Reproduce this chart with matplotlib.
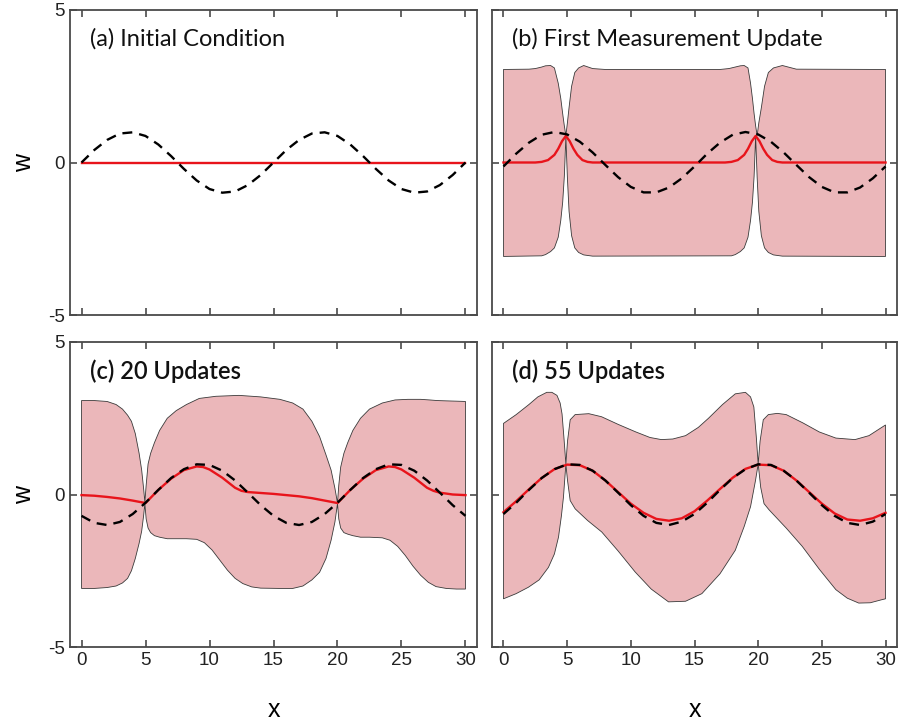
import matplotlib
matplotlib.use("Agg")
import matplotlib.pyplot as plt
import numpy as np

plt.rcParams['axes.unicode_minus'] = False
plt.rcParams['font.family'] = ['Liberation Sans', 'DejaVu Sans']

# ---- data ----
x_int = list(range(31))

# true state (dashed)
truth_a = [0, 0.41, 0.74, 0.95, 0.99, 0.87, 0.59, 0.21, -0.21, -0.59, -0.87, -0.99, -0.95, -0.74, -0.41,
           0, 0.41, 0.74, 0.95, 0.99, 0.87, 0.59, 0.21, -0.21, -0.59, -0.87, -0.99, -0.95, -0.74, -0.41, 0]
truth_b = [-0.13, 0.29, 0.65, 0.91, 1.0, 0.92, 0.68, 0.33, -0.08, -0.48, -0.80, -0.98, -0.98, -0.82, -0.52,
           -0.13, 0.29, 0.65, 0.91, 1.0, 0.92, 0.68, 0.33, -0.08, -0.48, -0.80, -0.98, -0.98, -0.82, -0.52, -0.13]
truth_c = [-0.70, -0.93, -1.0, -0.90, -0.64, -0.27, 0.15, 0.54, 0.83, 0.99, 0.97, 0.78, 0.46, 0.06, -0.35,
           -0.70, -0.93, -1.0, -0.90, -0.64, -0.27, 0.15, 0.54, 0.83, 0.99, 0.97, 0.78, 0.46, 0.06, -0.35, -0.70]
truth_d = [-0.64, -0.27, 0.15, 0.54, 0.83, 0.99, 0.97, 0.78, 0.46, 0.06, -0.35, -0.70, -0.93, -1.0, -0.89,
           -0.64, -0.27, 0.15, 0.54, 0.83, 0.99, 0.97, 0.78, 0.46, 0.06, -0.35, -0.70, -0.93, -1.0, -0.89, -0.64]

# estimate (red)
mean_a_x = [0, 30]
mean_a = [0, 0]

mean_b_x = [0, 2.5, 3, 3.5, 4, 4.3, 4.6, 4.9, 5.2, 5.5, 5.8, 6.2, 6.6, 7, 17.4, 17.9, 18.4, 18.9, 19.2, 19.5,
            19.8, 20.1, 20.4, 20.7, 21.1, 21.5, 21.9, 30]
mean_b = [0, 0, 0.02, 0.08, 0.25, 0.45, 0.7, 0.87, 0.7, 0.45, 0.25, 0.08, 0.02, 0, 0, 0.02, 0.08, 0.25, 0.45, 0.7,
          0.87, 0.7, 0.45, 0.25, 0.08, 0.02, 0, 0]

mean_c_x = [0, 1, 2, 3, 4, 5, 6, 7, 8, 9, 9.5, 10, 11, 12, 12.5, 13, 14, 15, 16, 17, 18, 19, 20,
            21, 22, 23, 24, 24.5, 25, 26, 27, 27.5, 28, 29, 30]
mean_c = [-0.02, -0.04, -0.08, -0.13, -0.2, -0.28, 0.15, 0.52, 0.8, 0.92, 0.9, 0.82, 0.55, 0.22, 0.12, 0.08,
          0.05, 0.02, -0.02, -0.06, -0.12, -0.2, -0.28, 0.15, 0.52, 0.8, 0.92, 0.9, 0.82, 0.55, 0.22, 0.12,
          0.06, 0.0, -0.02]

mean_d_x = x_int
mean_d = [-0.58, -0.22, 0.17, 0.54, 0.83, 0.98, 0.96, 0.78, 0.46, 0.08, -0.3, -0.6, -0.8, -0.86, -0.78,
          -0.55, -0.2, 0.18, 0.55, 0.84, 0.98, 0.96, 0.78, 0.46, 0.08, -0.3, -0.62, -0.82, -0.86, -0.78, -0.6]

# uncertainty band edges
up_b_x = [0, 2, 2.5, 3, 3.3, 3.7, 4.0, 4.3, 4.5, 4.65, 4.78, 4.9, 5.02, 5.15, 5.35, 5.6, 5.9, 6.3, 7.0, 8,
          17, 17.7, 18.2, 18.6, 18.9, 19.2, 19.4, 19.55, 19.68, 19.8, 19.92, 20.05, 20.25, 20.5, 20.8, 21.2,
          21.9, 23, 30]
up_b = [3.05, 3.06, 3.08, 3.13, 3.17, 3.18, 3.1, 2.6, 2.1, 1.6, 1.2, 0.88, 1.3, 1.8, 2.5, 2.95, 3.1, 3.18,
        3.08, 3.05, 3.05, 3.08, 3.13, 3.17, 3.18, 3.1, 2.6, 2.1, 1.6, 1.2, 0.88, 1.3, 1.8, 2.5, 2.95, 3.1,
        3.18, 3.06, 3.05]
lo_b_x = [0, 3, 3.3, 3.7, 4.0, 4.3, 4.5, 4.65, 4.78, 4.9, 5.02, 5.15, 5.35, 5.6, 5.9, 6.3, 7.0,
          17.9, 18.2, 18.6, 18.9, 19.2, 19.4, 19.55, 19.68, 19.8, 19.92, 20.05, 20.25, 20.5, 20.8, 21.2,
          21.9, 30]
lo_b = [-3.08, -3.06, -3.02, -2.92, -2.8, -2.45, -1.9, -1.3, -0.45, 0.85, -0.5, -1.6, -2.4, -2.8, -2.95,
        -3.03, -3.07, -3.06, -3.02, -2.92, -2.8, -2.45, -1.9, -1.3, -0.45, 0.85, -0.5, -1.6, -2.4, -2.8,
        -2.95, -3.03, -3.07, -3.08]

up_c_x = [0, 1, 2, 2.7, 3.2, 3.6, 3.9, 4.2, 4.5, 4.7, 4.85, 4.95, 5.05, 5.2, 5.4, 5.7, 6.1, 6.7, 7.4, 8.2,
          9.2, 10.5, 12.3, 14, 15.5, 16.5, 17.3, 18, 18.6, 19.1, 19.5, 19.8, 20.0, 20.1, 20.25, 20.5, 20.8,
          21.2, 21.8, 22.5, 23.5, 24.5, 25.5, 26.5, 27.2, 27.8, 28.5, 29.3, 30]
up_c = [3.08, 3.08, 3.05, 2.95, 2.8, 2.6, 2.4, 2.0, 1.35, 0.8, 0.2, -0.25, 0.3, 1.0, 1.35, 1.7, 2.1, 2.5, 2.75,
        2.95, 3.15, 3.22, 3.25, 3.2, 3.12, 3.0, 2.8, 2.4, 1.9, 1.3, 0.8, 0.2, -0.28, 0.3, 0.9, 1.35, 1.7, 2.1,
        2.5, 2.8, 3.0, 3.1, 3.12, 3.12, 3.1, 3.08, 3.07, 3.06, 3.05]
lo_c_x = [0, 1, 2, 2.7, 3.2, 3.6, 3.9, 4.2, 4.5, 4.7, 4.85, 4.95, 5.05, 5.2, 5.4, 5.7, 6.1, 6.7, 7.4, 8.2,
          9.0, 9.6, 10.2, 10.8, 11.4, 12.0, 12.6, 13.3, 14, 15.5, 16.5, 17.3, 18, 18.6, 19.1, 19.5, 19.8,
          20.0, 20.1, 20.25, 20.5, 20.8, 21.2, 21.8, 22.5, 23.5, 24.1, 24.7, 25.3, 25.9, 26.5, 27.1, 27.7,
          28.5, 29.3, 30]
lo_c = [-3.08, -3.08, -3.05, -3.0, -2.9, -2.75, -2.5, -2.1, -1.6, -1.2, -0.7, -0.3, -0.8, -1.1, -1.25, -1.35,
        -1.4, -1.45, -1.45, -1.45, -1.47, -1.58, -1.82, -2.15, -2.48, -2.75, -2.92, -3.03, -3.07, -3.08,
        -3.08, -3.0, -2.8, -2.55, -2.1, -1.5, -0.9, -0.3, -0.8, -1.1, -1.25, -1.3, -1.35, -1.4, -1.4, -1.42,
        -1.5, -1.7, -2.0, -2.35, -2.65, -2.88, -3.02, -3.08, -3.1, -3.1]

up_d_x = [0, 1, 2, 2.7, 3.4, 3.8, 4.2, 4.45, 4.6, 4.76, 4.9, 5.03, 5.24, 5.63, 6.7, 7.7, 9, 10.4, 11.5, 12.4,
          13.3, 14.3, 15.3, 16.1, 17.2, 18.2, 19.0, 19.4, 19.66, 19.85, 20.0, 20.15, 20.4, 20.8, 21.5, 22.2,
          23.5, 24.8, 26.1, 27.6, 28.7, 29.7, 30]
up_d = [2.33, 2.62, 2.95, 3.2, 3.35, 3.35, 3.25, 3.0, 2.64, 1.8, 1.0, 1.75, 2.45, 2.62, 2.65, 2.55, 2.3, 2.05,
        1.87, 1.8, 1.82, 1.93, 2.2, 2.5, 2.95, 3.3, 3.35, 3.2, 2.87, 1.9, 1.0, 1.75, 2.45, 2.62, 2.66, 2.62,
        2.35, 2.05, 1.85, 1.8, 1.93, 2.2, 2.28]
lo_d_x = [0, 1, 1.96, 2.8, 3.53, 4.0, 4.32, 4.55, 4.71, 4.9, 5.03, 5.24, 5.63, 6.6, 7.72, 9, 10.34, 11.6,
          12.96, 14.3, 15.58, 17, 18.2, 18.9, 19.4, 19.79, 20.0, 20.2, 20.46, 20.85, 22.2, 23.46, 24.8,
          26.1, 27.0, 27.9, 28.8, 29.7, 30]
lo_d = [-3.42, -3.25, -3.04, -2.8, -2.39, -1.95, -1.4, -0.7, -0.09, 1.0, 0.46, -0.2, -0.47, -0.85, -1.23,
        -1.85, -2.54, -3.1, -3.52, -3.5, -3.25, -2.6, -1.83, -1.05, -0.4, 0.46, 1.0, 0.23, -0.3, -0.5, -1.1,
        -1.7, -2.45, -3.12, -3.4, -3.56, -3.55, -3.45, -3.42]

titles = [("(a)", "Initial Condition"), ("(b)", "First Measurement Update"),
          ("(c)", "20 Updates"), ("(d)", "55 Updates")]

panels = [
    (truth_a, mean_a_x, mean_a, None),
    (truth_b, mean_b_x, mean_b, (up_b_x, up_b, lo_b_x, lo_b)),
    (truth_c, mean_c_x, mean_c, (up_c_x, up_c, lo_c_x, lo_c)),
    (truth_d, mean_d_x, mean_d, (up_d_x, up_d, lo_d_x, lo_d)),
]

fill_col = '#ebb7ba'
red = '#e8141b'
spine_col = '#4a4a4a'

fig = plt.figure(figsize=(8.99, 7.24), dpi=100)
lefts = [70 / 899, 492 / 899]
widths = [407 / 899, 405 / 899]
bottoms = [(724 - 315) / 724, (724 - 647) / 724]
height = 305 / 724

for i, (truth, mx, my, band) in enumerate(panels):
    row, col = divmod(i, 2)
    ax = fig.add_axes([lefts[col], bottoms[row], widths[col], height])
    if band is not None:
        ux, uy, lx, ly = band
        px = list(ux) + list(lx[::-1])
        py = list(uy) + list(ly[::-1])
        ax.fill(px, py, facecolor=fill_col, edgecolor='#3a3a3a', linewidth=0.6, zorder=1)
    ax.plot(mx, my, color=red, linewidth=1.7, zorder=2)
    ax.plot(x_int, truth, color='black', linewidth=1.7, dashes=(4.2, 3.0), zorder=3)

    ax.set_xlim(-0.9, 30.9)
    ax.set_ylim(-5, 5)
    ax.set_xticks([0, 5, 10, 15, 20, 25, 30])
    ax.set_yticks([-5, 0, 5])
    ax.tick_params(direction='in', top=True, right=True, length=5, width=1.2,
                   color=spine_col, labelsize=13.5, labelcolor='#222222')
    for s in ax.spines.values():
        s.set_color(spine_col)
        s.set_linewidth(1.3)
    if row == 0:
        ax.tick_params(labelbottom=False)
    else:
        ax.set_xlabel('x', fontsize=18, labelpad=21)
    if col == 1:
        ax.tick_params(labelleft=False)
    else:
        ax.set_ylabel('w', fontsize=18, labelpad=9)

    tag, name = titles[i]
    w = 'semibold' if i >= 2 else 'normal'
    ax.text(0.049, 0.905, tag + ' ' + name, transform=ax.transAxes, fontsize=17,
            family=['Lato', 'DejaVu Sans'], fontweight=w, va='center', ha='left', color='#111111')

fig.savefig('out.png', dpi=100)
